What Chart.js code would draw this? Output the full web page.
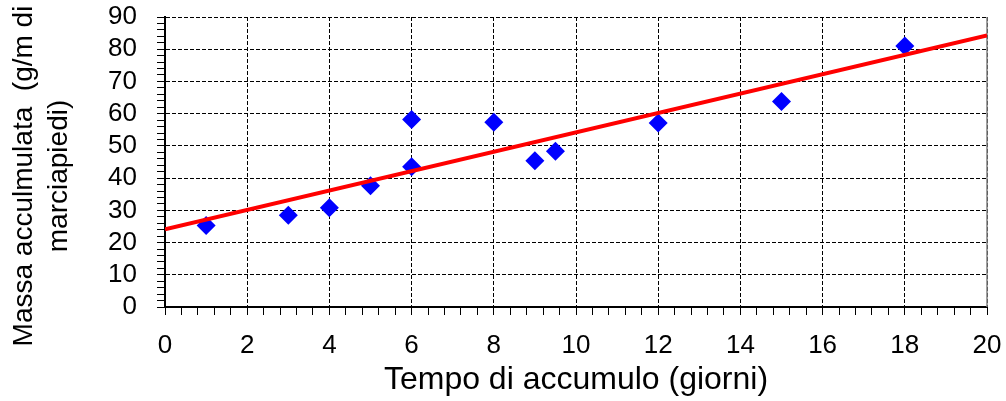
<!DOCTYPE html>
<html>
<head>
<meta charset="utf-8">
<script src="https://cdn.jsdelivr.net/npm/chart.js@4/dist/chart.umd.min.js"></script>
<style>
body { margin: 0; background: #fff; }
#wrap { width: 1006px; height: 401px; }
</style>
</head>
<body>
<div id="wrap"><canvas id="canvas" width="1006" height="401"></canvas></div>
<script>
// misure (giorni di accumulo, massa accumulata)
const dayValues = [1, 3, 4, 5, 6, 6, 8, 9, 9.5, 12, 15, 18];
const massValues = [25.3, 28.5, 30.8, 37.6, 43.5, 58.2, 57.3, 45.4, 48.3, 57.1, 63.8, 81.0];

// retta di regressione (estremi)
const trendDays = [0, 20];
const trendMass = [24.1, 84.3];

const xTitle = 'Tempo di accumulo (giorni)';
const yTitle = ['Massa acculmulata  (g/m di', 'marciapiedi)'];

const FONT = "'Liberation Sans', Arial, sans-serif";

const points = dayValues.map((d, i) => ({ x: d, y: massValues[i] }));
const trend = trendDays.map((d, i) => ({ x: d, y: trendMass[i] }));

function isMajor(v, step) {
  const r = v / step;
  return Math.abs(r - Math.round(r)) < 1e-6;
}

// bordo destro grigio dell'area del grafico
const frameBorder = {
  id: 'frameBorder',
  beforeDatasetsDraw(chart) {
    const { ctx, chartArea } = chart;
    ctx.save();
    ctx.strokeStyle = '#808080';
    ctx.lineWidth = 1.5;
    ctx.beginPath();
    ctx.moveTo(chartArea.right, chartArea.top);
    ctx.lineTo(chartArea.right, chartArea.bottom);
    ctx.stroke();
    ctx.restore();
  }
};

// titolo asse y su due righe, centrato un po' sotto il centro del grafico
const yAxisTitle = {
  id: 'yAxisTitle',
  afterDraw(chart) {
    const { ctx } = chart;
    ctx.save();
    ctx.translate(24, 176);
    ctx.rotate(-Math.PI / 2);
    ctx.fillStyle = '#000';
    ctx.font = '28px ' + FONT;
    ctx.textAlign = 'center';
    ctx.textBaseline = 'middle';
    yTitle.forEach((line, i) => ctx.fillText(line, 0, i * 35));
    ctx.restore();
  }
};

const ctx = document.getElementById('canvas').getContext('2d');

new Chart(ctx, {
  type: 'scatter',
  data: {
    datasets: [
      {
        type: 'line',
        data: trend,
        borderColor: '#ff0000',
        borderWidth: 4,
        pointRadius: 0,
        fill: false,
      },
      {
        data: points,
        pointStyle: 'rectRot',
        pointRadius: 9.5,
        backgroundColor: '#0000ff',
        borderColor: '#0000ff',
        borderWidth: 0,
      },
    ],
  },
  options: {
    responsive: false,
    animation: false,
    layout: { autoPadding: false, padding: { top: 17, right: 19, left: 0, bottom: 0 } },
    plugins: {
      legend: { display: false },
      tooltip: { enabled: false },
    },
    scales: {
      x: {
        type: 'linear',
        min: 0,
        max: 20,
        ticks: {
          stepSize: 0.4,
          autoSkip: false,
          maxRotation: 0,
          padding: 15,
          color: '#000',
          font: { family: FONT, size: 26 },
          callback: (v) => (isMajor(v, 2) ? Math.round(v) : ''),
        },
        grid: {
          color: (c) => (c.tick && isMajor(c.tick.value, 2) ? '#000' : 'rgba(0,0,0,0)'),
          lineWidth: 1,
          tickColor: '#000',
          tickLength: 8,
          tickWidth: 1,
        },
        border: { display: true, color: '#000', width: 2, dash: [4, 2] },
        title: {
          display: true,
          text: xTitle,
          color: '#000',
          font: { family: FONT, size: 32, lineHeight: 1.2 },
          padding: { top: 0, bottom: 2 },
        },
        afterFit: (scale) => {
          scale.height = 94;
          scale.paddingLeft = 0;
          scale.paddingRight = 0;
        },
      },
      y: {
        type: 'linear',
        min: 0,
        max: 90,
        ticks: {
          stepSize: 2,
          autoSkip: false,
          padding: 20,
          color: '#000',
          font: { family: FONT, size: 26 },
          callback: (v) => (isMajor(v, 10) ? Math.round(v) : ''),
        },
        grid: {
          color: (c) => (c.tick && isMajor(c.tick.value, 10) ? '#000' : 'rgba(0,0,0,0)'),
          lineWidth: 1,
          tickColor: '#000',
          tickLength: 8,
          tickWidth: 1,
        },
        border: { display: true, color: '#000', width: 2, dash: [4, 2] },
        title: { display: false },
        afterFit: (scale) => {
          scale.width = 165;
          scale.paddingTop = 0;
          scale.paddingBottom = 0;
        },
      },
    },
  },
  plugins: [frameBorder, yAxisTitle],
});
</script>
</body>
</html>
